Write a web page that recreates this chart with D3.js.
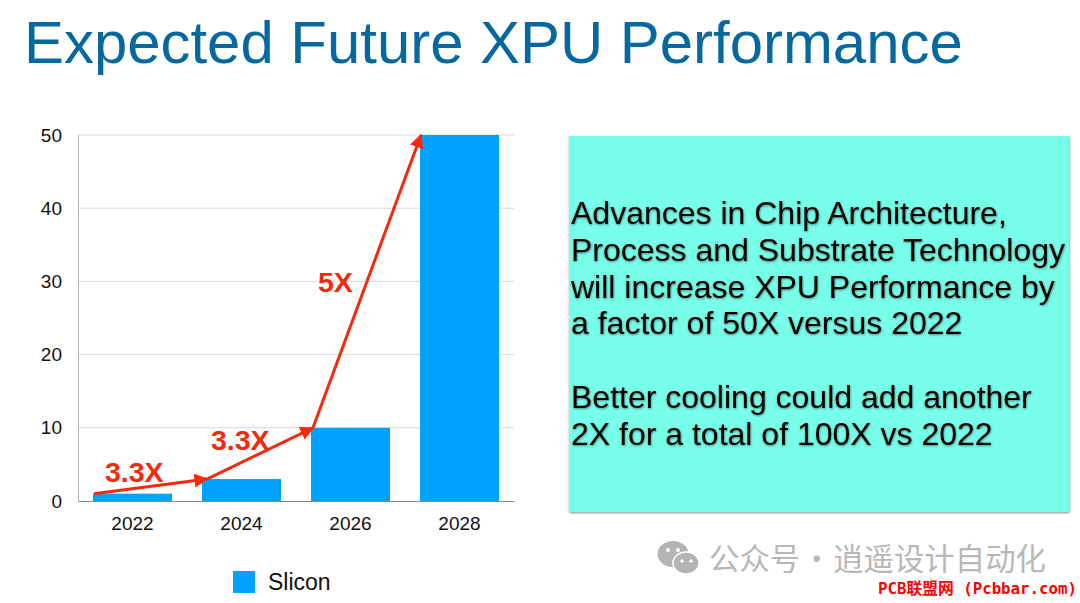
<!DOCTYPE html>
<html>
<head>
<meta charset="utf-8">
<script src="https://cdn.jsdelivr.net/npm/d3@7"></script>
<style>
  html, body { margin: 0; padding: 0; background: #fff; }
  svg { display: block; font-family: "Liberation Sans", Arial, sans-serif; }
</style>
</head>
<body>
<div id="chart"></div>
<script>
const years = ['2022', '2024', '2026', '2028'];
const slicon = [1, 3, 10, 50];
const yTicks = [0, 10, 20, 30, 40, 50];
const growthLabels = ['3.3X', '3.3X', '5X'];
const noteLines = [
  'Advances in Chip Architecture,',
  'Process and Substrate Technology',
  'will increase XPU Performance by',
  'a factor of 50X versus 2022',
  '',
  'Better cooling could add another',
  '2X for a total of 100X vs 2022'
];

const width = 1080, height = 603;
const margin = {top: 135, right: 566, bottom: 102, left: 78};

const svg = d3.select('#chart').append('svg')
    .attr('width', width)
    .attr('height', height);

const defs = svg.append('defs');

// arrow head for the growth arrows
defs.append('marker')
    .attr('id', 'arrowHead')
    .attr('viewBox', '0 0 10 10')
    .attr('refX', 9)
    .attr('refY', 5)
    .attr('markerUnits', 'userSpaceOnUse')
    .attr('markerWidth', 14)
    .attr('markerHeight', 14)
    .attr('orient', 'auto')
  .append('path')
    .attr('d', 'M0,0L10,5L0,10Z')
    .attr('fill', '#f52a0c');

const softShadow = defs.append('filter').attr('id', 'softShadow')
    .attr('x', '-5%').attr('y', '-5%').attr('width', '110%').attr('height', '110%');
softShadow.append('feDropShadow')
    .attr('dx', 0.5).attr('dy', 1)
    .attr('stdDeviation', 1)
    .attr('flood-color', '#000')
    .attr('flood-opacity', 0.45);

// title
svg.append('text')
    .attr('x', 24)
    .attr('y', 63)
    .attr('font-size', 59.9)
    .attr('fill', '#05699f')
    .text('Expected Future XPU Performance');

// scales
const x = d3.scaleBand()
    .domain(years)
    .range([margin.left, width - margin.right])
    .paddingInner(0.275)
    .paddingOuter(0.1375);

const y = d3.scaleLinear()
    .domain([0, 50])
    .range([height - margin.bottom, margin.top]);

// gridlines
svg.append('g')
    .selectAll('line')
    .data(yTicks.filter(d => d > 0))
    .join('line')
    .attr('x1', margin.left)
    .attr('x2', width - margin.right)
    .attr('y1', d => y(d))
    .attr('y2', d => y(d))
    .attr('stroke', '#d8d8d8')
    .attr('stroke-width', 1);

// bars
svg.append('g')
    .selectAll('rect')
    .data(slicon)
    .join('rect')
    .attr('x', (d, i) => x(years[i]))
    .attr('y', d => y(d))
    .attr('width', x.bandwidth())
    .attr('height', d => y(0) - y(d))
    .attr('fill', '#00a2ff');

// axes
const yAxis = svg.append('g')
    .attr('transform', `translate(${margin.left},0)`)
    .call(d3.axisLeft(y).tickValues(yTicks).tickSize(0).tickPadding(16));
yAxis.select('.domain').attr('stroke', '#b5b5b5');

const xAxis = svg.append('g')
    .attr('transform', `translate(0,${height - margin.bottom})`)
    .call(d3.axisBottom(x).tickSize(0).tickPadding(16));
xAxis.select('.domain').attr('stroke', '#8a8a8a');

svg.selectAll('.tick text')
    .attr('font-family', '"Liberation Sans", Arial, sans-serif')
    .attr('font-size', 19)
    .attr('fill', '#111');

// growth arrows run from the top left corner of one bar to the next,
// nudged a little because the slide drew them by hand
const arrowNudge = [1, 5, 2, 1];
const arrows = d3.pairs(years.map((yr, i) => ({x: x(yr) + arrowNudge[i], y: y(slicon[i])})));
svg.append('g')
    .selectAll('line')
    .data(arrows)
    .join('line')
    .attr('x1', d => d[0].x)
    .attr('y1', d => d[0].y)
    .attr('x2', d => d[1].x)
    .attr('y2', d => d[1].y)
    .attr('stroke', '#f52a0c')
    .attr('stroke-width', 3)
    .attr('marker-end', 'url(#arrowHead)');

const growthPos = [[105, 482], [211, 450], [318, 292]];
svg.append('g')
    .selectAll('text')
    .data(growthLabels)
    .join('text')
    .attr('x', (d, i) => growthPos[i][0])
    .attr('y', (d, i) => growthPos[i][1])
    .attr('font-size', 28.5)
    .attr('font-weight', 'bold')
    .attr('fill', '#f52a0c')
    .text(d => d);

// legend
svg.append('rect')
    .attr('x', 233)
    .attr('y', 571)
    .attr('width', 22)
    .attr('height', 22)
    .attr('fill', '#00a2ff');
svg.append('text')
    .attr('x', 268)
    .attr('y', 590)
    .attr('font-size', 23)
    .attr('fill', '#111')
    .text('Slicon');

// note box
svg.append('rect')
    .attr('x', 569)
    .attr('y', 136)
    .attr('width', 500)
    .attr('height', 376)
    .attr('fill', '#78ffe9')
    .attr('filter', 'url(#softShadow)');

svg.append('g')
    .selectAll('text')
    .data(noteLines)
    .join('text')
    .attr('x', 571)
    .attr('y', (d, i) => 224 + i * 36.8)
    .attr('font-size', 32)
    .attr('fill', '#000')
    .attr('filter', 'url(#softShadow)')
    .text(d => d);

// wechat watermark
const wm = svg.append('g').attr('fill', '#b4b4b4');
wm.append('ellipse').attr('cx', 673).attr('cy', 554).attr('rx', 15.5).attr('ry', 13);
wm.append('ellipse').attr('cx', 686).attr('cy', 563).attr('rx', 13).attr('ry', 11)
    .attr('stroke', '#fff').attr('stroke-width', 1.5);
wm.append('circle').attr('cx', 668).attr('cy', 550).attr('r', 2).attr('fill', '#fff');
wm.append('circle').attr('cx', 678).attr('cy', 550).attr('r', 2).attr('fill', '#fff');
wm.append('circle').attr('cx', 682).attr('cy', 561).attr('r', 1.7).attr('fill', '#fff');
wm.append('circle').attr('cx', 691).attr('cy', 561).attr('r', 1.7).attr('fill', '#fff');

svg.append('text')
    .attr('x', 709)
    .attr('y', 570)
    .attr('font-family', '"Noto Sans CJK SC", sans-serif')
    .attr('font-size', 30.4)
    .attr('word-spacing', -5.5)
    .attr('fill', '#b8b8b8')
    .text('公众号 · 逍遥设计自动化');

svg.append('text')
    .attr('x', 878)
    .attr('y', 594)
    .attr('font-family', '"DejaVu Sans Mono", "Noto Sans CJK SC", monospace')
    .attr('font-size', 15.75)
    .attr('font-weight', 'bold')
    .attr('fill', '#ff0000')
    .text('PCB联盟网 (Pcbbar.com)');
</script>
</body>
</html>
